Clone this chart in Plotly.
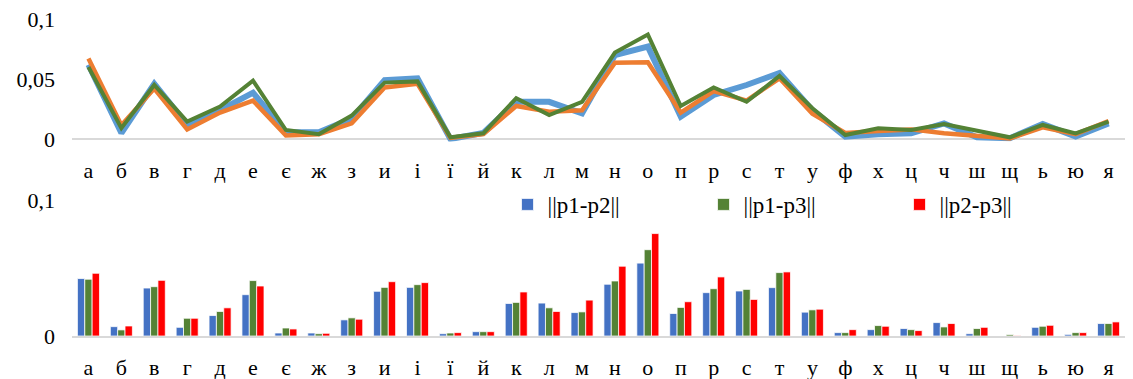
import plotly.graph_objects as go

letters = ["а", "б", "в", "г", "д", "е", "є", "ж", "з", "и", "і", "ї", "й", "к", "л", "м",
           "н", "о", "п", "р", "с", "т", "у", "ф", "х", "ц", "ч", "ш", "щ", "ь", "ю", "я"]

# top panel: three line series
line_blue = [0.062, 0.005, 0.046, 0.0117, 0.024, 0.0386, 0.0057, 0.0057, 0.017, 0.049, 0.0506,
             0.0, 0.005, 0.031, 0.031, 0.0214, 0.070, 0.077, 0.0186, 0.0367, 0.045, 0.055,
             0.024, 0.002, 0.004, 0.0047, 0.013, 0.0014, 0.0006, 0.0125, 0.002, 0.013]
line_orange = [0.067, 0.0115, 0.042, 0.008, 0.022, 0.032, 0.003, 0.004, 0.013, 0.043, 0.046,
               0.001, 0.004, 0.0275, 0.0228, 0.024, 0.0636, 0.064, 0.022, 0.040, 0.032, 0.0506,
               0.021, 0.005, 0.0067, 0.008, 0.0047, 0.003, 0.0005, 0.0097, 0.004, 0.015]
line_green = [0.060, 0.009, 0.045, 0.0145, 0.027, 0.0486, 0.0075, 0.004, 0.0195, 0.047, 0.048,
              0.0014, 0.0047, 0.034, 0.020, 0.031, 0.072, 0.087, 0.0275, 0.043, 0.031, 0.0525,
              0.0256, 0.0033, 0.009, 0.0075, 0.0125, 0.007, 0.0014, 0.0117, 0.0047, 0.0145]

# bottom panel: three bar series
bar_names = ["||p1-p2||", "||p1-p3||", "||p2-p3||"]
bar_p1p2 = [0.0424, 0.0069, 0.0354, 0.0064, 0.0151, 0.0305, 0.0022, 0.0022, 0.0119, 0.033, 0.0359,
            0.0017, 0.0032, 0.024, 0.0243, 0.0173, 0.0382, 0.0538, 0.0166, 0.032, 0.0332, 0.0357,
            0.0176, 0.0025, 0.0047, 0.0055, 0.0099, 0.0017, 0.0, 0.0064, 0.0012, 0.0092]
bar_p1p3 = [0.0419, 0.0045, 0.0364, 0.0131, 0.0181, 0.0409, 0.0059, 0.0017, 0.0134, 0.0359, 0.0379,
            0.0022, 0.0032, 0.0248, 0.0208, 0.0178, 0.0406, 0.0637, 0.0211, 0.0349, 0.0344, 0.0468,
            0.0193, 0.0025, 0.0077, 0.0047, 0.0067, 0.0055, 0.001, 0.0072, 0.0025, 0.0092]
bar_p2p3 = [0.0463, 0.0074, 0.0411, 0.0131, 0.0208, 0.0369, 0.0052, 0.002, 0.0124, 0.0401, 0.0394,
            0.0025, 0.0032, 0.0325, 0.0181, 0.0265, 0.0515, 0.0756, 0.0253, 0.0436, 0.027, 0.0473,
            0.0198, 0.0047, 0.0072, 0.004, 0.0092, 0.0064, 0.0003, 0.0079, 0.0025, 0.0104]

top_tickvals = [0, 0.05, 0.1]
top_ticktext = ["0", "0,05", "0,1"]
bot_tickvals = [0, 0.1]
bot_ticktext = ["0", "0,1"]

FONT = "Liberation Serif"
AXIS_GRAY = "#D9D9D9"

fig = go.Figure()

for vals, color, width in [(line_blue, "#5B9BD5", 6), (line_orange, "#ED7D31", 4.5),
                           (line_green, "#548235", 4)]:
    fig.add_trace(go.Scatter(x=letters, y=vals, mode="lines", line=dict(color=color, width=width),
                             xaxis="x", yaxis="y", showlegend=False))

for vals, name, color in [(bar_p1p2, bar_names[0], "#4472C4"), (bar_p1p3, bar_names[1], "#548235"),
                          (bar_p2p3, bar_names[2], "#FF0000")]:
    fig.add_trace(go.Bar(x=letters, y=vals, name=name, marker=dict(color=color, line=dict(color="white", width=0.75)),
                         xaxis="x2", yaxis="y2"))

fig.update_layout(
    width=1125, height=371,
    margin=dict(l=64, r=8, t=11, b=43, autoexpand=False),
    paper_bgcolor="white", plot_bgcolor="white",
    font=dict(family=FONT, size=22, color="black"),
    barmode="group", bargap=0.33, bargroupgap=0,
    showlegend=True,
    legend=dict(orientation="h", x=0.4136, xanchor="left", y=0.415, yanchor="middle",
                entrywidth=151, entrywidthmode="pixels", itemwidth=30,
                font=dict(family=FONT, size=23), bgcolor="rgba(0,0,0,0)", tracegroupgap=0),
    xaxis=dict(domain=[0, 1], anchor="y", type="category", range=[-0.5, 31.5],
               tickmode="array", tickvals=letters, ticktext=letters,
               showline=False, showgrid=False, zeroline=False, ticks="", ticklabelstandoff=14,
               tickfont=dict(family=FONT, size=22)),
    yaxis=dict(domain=[0.6139, 1], anchor="x", range=[-0.002, 0.1], showgrid=False,
               zeroline=True, zerolinecolor=AXIS_GRAY, zerolinewidth=2, showline=False,
               tickvals=top_tickvals, ticktext=top_ticktext, ticks="", ticklabelstandoff=16,
               ticklabeloverflow="allow", tickfont=dict(family=FONT, size=22)),
    xaxis2=dict(domain=[0, 1], anchor="y2", type="category", range=[-0.5, 31.5],
                tickmode="array", tickvals=letters, ticktext=letters,
                showline=True, linecolor=AXIS_GRAY, linewidth=2, showgrid=False, zeroline=False,
                ticks="", ticklabelstandoff=11, tickfont=dict(family=FONT, size=22)),
    yaxis2=dict(domain=[0, 0.4274], anchor="x2", range=[0, 0.1], showgrid=False, zeroline=False,
                showline=False, tickvals=bot_tickvals, ticktext=bot_ticktext, ticks="",
                ticklabelstandoff=16, ticklabeloverflow="allow", tickfont=dict(family=FONT, size=22)),
)

fig.write_html("out.html")
